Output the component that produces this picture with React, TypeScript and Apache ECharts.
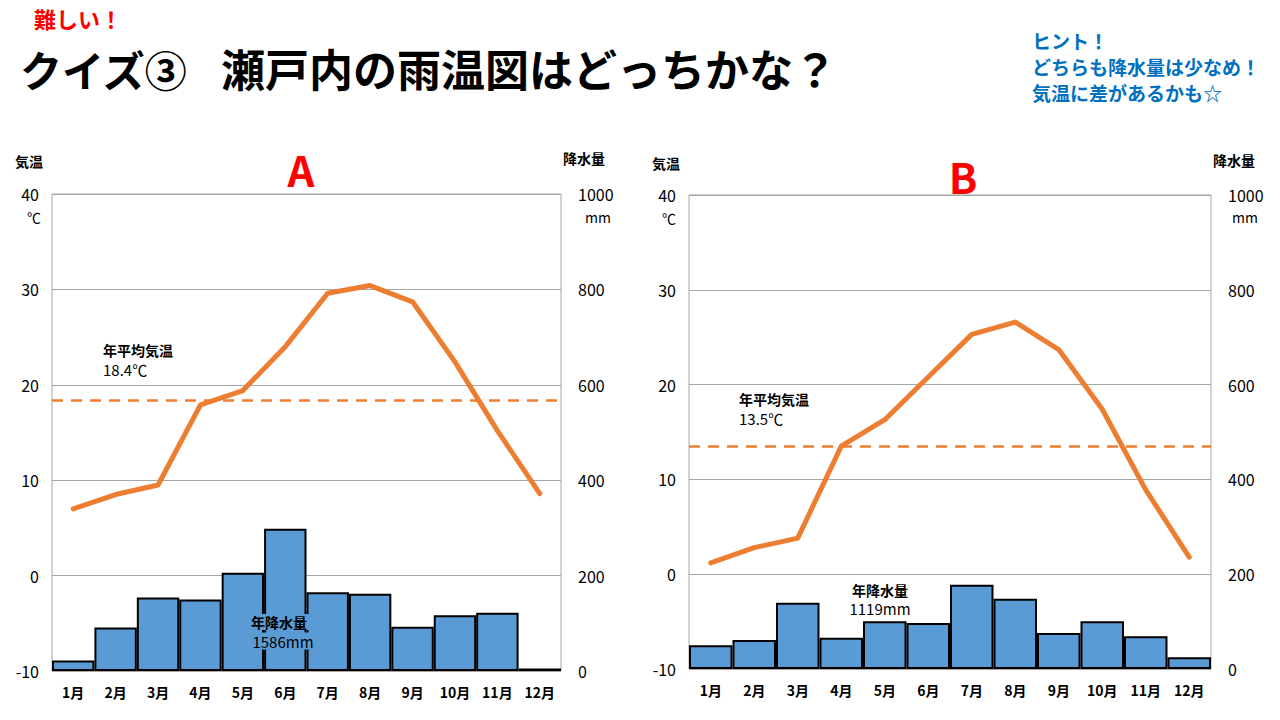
import React, { useEffect, useRef } from "react";
import * as echarts from "echarts";

const months = ["1月", "2月", "3月", "4月", "5月", "6月", "7月", "8月", "9月", "10月", "11月", "12月"];
const tempA = [7.0, 8.5, 9.5, 17.9, 19.4, 24.0, 29.6, 30.4, 28.7, 22.4, 15.2, 8.6];
const precipA = [22, 91, 154, 150, 206, 298, 165, 162, 93, 117, 122, 5];
const tempB = [1.2, 2.8, 3.8, 13.5, 16.3, 20.8, 25.3, 26.6, 23.7, 17.4, 8.9, 1.8];
const precipB = [50, 61, 140, 66, 101, 97, 178, 148, 76, 101, 69, 25];
const avgTemps = [18.4, 13.5];
const avgTempLabels = ["18.4℃", "13.5℃"];
const annualPrecipLabels = ["1586mm", "1119mm"];
const tempTicks = { min: -10, max: 40, interval: 10 };
const precipTicks = { min: 0, max: 1000, interval: 200 };

const FONT = "'Noto Sans CJK JP', 'Noto Sans', sans-serif";
const ORANGE = "#ed7d31";
const BLUE = "#5b9bd5";
const GRID_GRAY = "#a6a6a6";

export default function App() {
  const ref = useRef<HTMLDivElement>(null);
  useEffect(() => {
    if (!ref.current) return;
    const chart = echarts.init(ref.current, null, { renderer: "svg" });

    const grids = [
      { left: 52, top: 194, width: 509, height: 477 },
      { left: 689, top: 195, width: 522, height: 474 },
    ];

    const xAxes = grids.map((_, i) => ({
      type: "category",
      gridIndex: i,
      data: months,
      boundaryGap: true,
      axisLine: { show: false },
      axisTick: { show: false },
      axisLabel: { color: "#000", fontFamily: FONT, fontSize: 14, fontWeight: "bold", margin: 14 },
    }));

    const yAxes: any[] = [];
    grids.forEach((_, i) => {
      yAxes.push({
        type: "value",
        gridIndex: i,
        position: "left",
        ...tempTicks,
        axisLine: { show: false },
        axisTick: { show: false },
        splitLine: { show: true, lineStyle: { color: GRID_GRAY, width: 1 } },
        axisLabel: { color: "#000", fontFamily: FONT, fontSize: 16, margin: 13, formatter: (v: number) => String(v) },
      });
      yAxes.push({
        type: "value",
        gridIndex: i,
        position: "right",
        ...precipTicks,
        axisLine: { show: false },
        axisTick: { show: false },
        splitLine: { show: false },
        axisLabel: { color: "#000", fontFamily: FONT, fontSize: 16, margin: 17, formatter: (v: number) => String(v) },
      });
    });

    const mkBar = (data: number[], i: number) => ({
      type: "bar",
      xAxisIndex: i,
      yAxisIndex: i * 2 + 1,
      data,
      barCategoryGap: "0%",
      itemStyle: { color: BLUE, borderColor: "#000", borderWidth: 2 },
      z: 2,
    });
    const mkLine = (data: number[], i: number) => ({
      type: "line",
      xAxisIndex: i,
      yAxisIndex: i * 2,
      data,
      symbol: "none",
      lineStyle: { color: ORANGE, width: 5, cap: "round", join: "round" },
      z: 4,
      markLine: {
        silent: true,
        symbol: "none",
        label: { show: false },
        lineStyle: { color: ORANGE, width: 2.5, type: [11, 8] },
        data: [{ yAxis: avgTemps[i] }],
      },
    });

    const txt = (text: string, x: number, y: number, opts: any = {}) => ({
      type: "text",
      x,
      y,
      z: 10,
      style: {
        text,
        fill: opts.fill || "#000",
        font: `${opts.weight || "bold"} ${opts.size || 15}px ${FONT}`,
        textAlign: opts.align || "left",
        textVerticalAlign: "middle",
        backgroundColor: opts.bg,
        padding: opts.pad,
      },
    });

    const graphics: any[] = [
      txt("難しい！", 34, 18, { fill: "#ff0000", size: 22 }),
      txt("クイズ③", 20, 68, { size: 42 }),
      txt("瀬戸内の雨温図はどっちかな？", 221, 68, { size: 44 }),
      txt("ヒント！", 1032, 40, { fill: "#0070c0", size: 19 }),
      txt("どちらも降水量は少なめ！", 1032, 66, { fill: "#0070c0", size: 19 }),
      txt("気温に差があるかも☆", 1032, 92, { fill: "#0070c0", size: 19 }),
      // chart A
      txt("A", 301, 168, { fill: "#ff0000", size: 42, align: "center" }),
      txt("気温", 15, 161, { size: 14, weight: "bold" }),
      txt("降水量", 563, 158, { size: 14, weight: "bold" }),
      txt("℃", 34, 217, { size: 14, weight: "normal", align: "center" }),
      txt("mm", 598, 217, { size: 14, weight: "normal", align: "center" }),
      txt("年平均気温", 103, 350, { size: 14 }),
      txt(avgTempLabels[0], 103, 369, { size: 15, weight: "normal" }),
      txt("年降水量", 279, 622, { size: 14, align: "center", bg: BLUE, pad: [1, 3] }),
      txt(annualPrecipLabels[0], 283, 641, { size: 15, weight: "normal", align: "center", bg: BLUE, pad: [1, 3] }),
      // chart B
      txt("B", 963, 175, { fill: "#ff0000", size: 42, align: "center" }),
      txt("気温", 652, 163, { size: 14, weight: "bold" }),
      txt("降水量", 1213, 160, { size: 14, weight: "bold" }),
      txt("℃", 669, 218, { size: 14, weight: "normal", align: "center" }),
      txt("mm", 1245, 217, { size: 14, weight: "normal", align: "center" }),
      txt("年平均気温", 739, 399, { size: 14 }),
      txt(avgTempLabels[1], 739, 418, { size: 15, weight: "normal" }),
      txt("年降水量", 880, 590, { size: 14, align: "center" }),
      txt(annualPrecipLabels[1], 880, 608, { size: 15, weight: "normal", align: "center" }),
    ];

    chart.setOption({
      animation: false,
      backgroundColor: "#fff",
      textStyle: { fontFamily: FONT },
      grid: grids.map((g) => ({ ...g, show: true, borderColor: GRID_GRAY, borderWidth: 1, backgroundColor: "transparent" })),
      xAxis: xAxes,
      yAxis: yAxes,
      series: [mkBar(precipA, 0), mkLine(tempA, 0), mkBar(precipB, 1), mkLine(tempB, 1)],
      graphic: graphics,
    });
    return () => chart.dispose();
  }, []);
  return <div ref={ref} style={{ position: "absolute", left: 0, top: 0, width: 1280, height: 720 }} />;
}
